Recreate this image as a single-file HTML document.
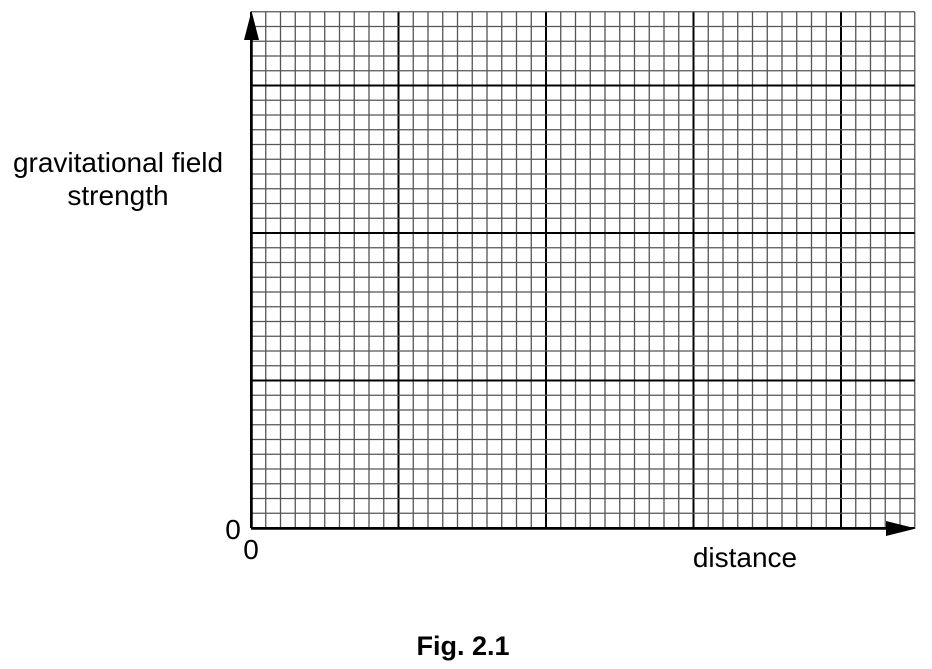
<!DOCTYPE html>
<html><head><meta charset="utf-8"><style>
body{margin:0;background:#fff;width:932px;height:669px;overflow:hidden;font-family:"Liberation Sans",sans-serif}
svg{position:absolute;left:0;top:0}
</style></head><body>
<svg width="932" height="669">
<g id="grid"></g>
<line x1="251" y1="528.5" x2="890" y2="528.5" stroke="#000" stroke-width="2.5"/>
<polygon points="886,521 916,528.5 886,536" fill="#000"/>
<line x1="251.5" y1="528" x2="251.5" y2="38" stroke="#000" stroke-width="2.5"/>
<polygon points="244,40 251.5,11 259,40" fill="#000"/>
<text x="118" y="172" font-size="28" text-anchor="middle">gravitational field</text>
<text x="118" y="205" font-size="28" text-anchor="middle">strength</text>
<text x="233" y="539" font-size="28" text-anchor="middle">0</text>
<text x="251" y="559" font-size="28" text-anchor="middle">0</text>
<text x="745" y="567" font-size="28" text-anchor="middle">distance</text>
<text x="463" y="655" font-size="27" font-weight="bold" text-anchor="middle">Fig. 2.1</text>
</svg>
<script>
const gx0=251, gy0=528, gstep=14.75, gnx=45, gny=35;
const gridG=document.getElementById('grid');
const SVGNS='http://www.w3.org/2000/svg';
function ln(x1,y1,x2,y2,major,name){
 const l=document.createElementNS(SVGNS,'line');
 l.setAttribute('x1',x1);l.setAttribute('y1',y1);l.setAttribute('x2',x2);l.setAttribute('y2',y2);
 l.setAttribute('stroke',major?'#000':'#555');
 l.setAttribute('stroke-width',major?2:1.3);
 
 
 gridG.appendChild(l);
}
const gTop=gy0-gny*gstep, gRight=gx0+gnx*gstep;
for(let i=0;i<=gnx;i++){const x=gx0+i*gstep;ln(x,gTop,x,gy0,i%10==0,'grid-vline');}
for(let j=0;j<=gny;j++){const y=gy0-j*gstep;ln(gx0,y,gRight,y,j%10==0,'grid-hline');}
</script>
</body></html>
